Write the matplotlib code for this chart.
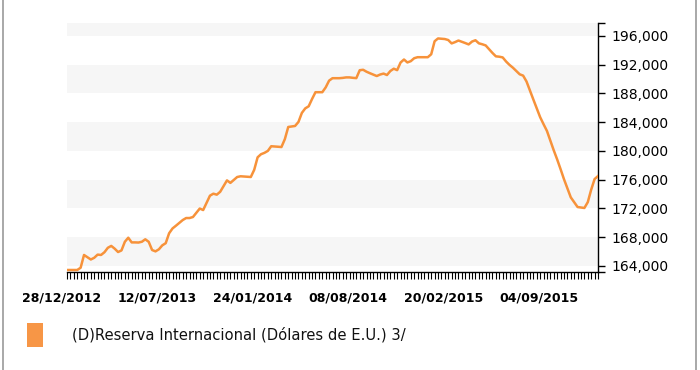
import matplotlib
matplotlib.use("Agg")
import matplotlib.pyplot as plt
import matplotlib.transforms as mtransforms
from matplotlib.patches import Rectangle
from matplotlib.lines import Line2D
from matplotlib.ticker import FuncFormatter
import matplotlib.dates as mdates
import pandas as pd

# weekly values (millions)
reserves = [
    163430, 163430, 163430, 163430, 163740, 165520, 165200, 164890, 165130, 165570,
    165520, 165900, 166520, 166780, 166400, 165930, 166150, 167360, 167920, 167270,
    167270, 167250, 167360, 167700, 167350, 166210, 166020, 166310, 166860, 167160,
    168540, 169210, 169590, 169990, 170380, 170660, 170660, 170800, 171390, 171980,
    171770, 172770, 173770, 174050, 173910, 174310, 175110, 175900, 175550, 175950,
    176370, 176470, 176440, 176400, 176370, 177370, 179110, 179540, 179730, 180000,
    180650, 180620, 180580, 180540, 181640, 183330, 183400, 183470, 184030, 185290,
    185920, 186210, 187230, 188170, 188170, 188170, 188840, 189780, 190120, 190120,
    190120, 190160, 190230, 190230, 190170, 190130, 191230, 191290, 191020, 190810,
    190620, 190420, 190630, 190760, 190560, 191120, 191440, 191240, 192300, 192720,
    192310, 192490, 192900, 193040, 193040, 193040, 193040, 193450, 195260, 195650,
    195610, 195570, 195430, 194960, 195140, 195360, 195190, 195010, 194820, 195220,
    195400, 194970, 194840, 194680, 194150, 193630, 193160, 193110, 193010, 192440,
    191970, 191580, 191120, 190660, 190480, 189660, 188390, 187160, 185930, 184700,
    183720, 182780, 181440, 180080, 178820, 177470, 176070, 174790, 173540, 172870,
    172190, 172130, 172060, 172870, 174610, 176080, 176500,
]
series_label = "(D)Reserva Internacional (Dólares de E.U.) 3/"
start_date = "2012-12-28"
y_ticks = [164000, 168000, 172000, 176000, 180000, 184000, 188000, 192000, 196000]

dates = pd.date_range(start_date, periods=len(reserves), freq="7D")
tick_dates = dates[::28]

orange = "#f7923a"
fig = plt.figure(figsize=(7, 3.7), dpi=100)
ax = fig.add_axes([67 / 700, 1 - 272 / 370, 531 / 700, 249 / 370])

y_min, y_max = 163150, 197800
# alternating light bands
for lo in y_ticks[::2]:
    ax.axhspan(lo, min(lo + 4000, y_max), color="#f6f6f6", lw=0, zorder=0)

ax.plot(dates, reserves, color=orange, lw=1.8, zorder=3)

ax.set_xlim(dates[0], dates[-1])
ax.set_ylim(y_min, y_max)

for side in ["left", "top"]:
    ax.spines[side].set_visible(False)
for side in ["right", "bottom"]:
    ax.spines[side].set_color("black")
    ax.spines[side].set_linewidth(1.0)

ax.yaxis.tick_right()
ax.set_yticks(y_ticks)
ax.set_yticks([y_min, y_max], minor=True)
ax.yaxis.set_major_formatter(FuncFormatter(lambda v, p: f"{v:,.0f}"))
ax.tick_params(axis="y", which="both", direction="out", length=5, width=1,
               labelsize=10, pad=5, colors="black")

ax.set_xticks(tick_dates)
ax.set_xticks(dates, minor=True)
ax.xaxis.set_major_formatter(mdates.DateFormatter("%d/%m/%Y"))
ax.tick_params(axis="x", which="both", direction="out", length=5, width=0.8,
               pad=9, labelsize=9)
offset = mtransforms.ScaledTranslation(-5 / 100, 0, fig.dpi_scale_trans)
for lbl in ax.get_xticklabels():
    lbl.set_fontweight("bold")
    lbl.set_transform(lbl.get_transform() + offset)

# legend
fig.add_artist(Rectangle((27 / 700, 1 - 347 / 370), 16 / 700, 24 / 370,
                         transform=fig.transFigure, color="#f79646", lw=0))
fig.text(72 / 700, 1 - 335 / 370, series_label, fontsize=10.6, va="center",
         color="#111111")

# frame edges of the screenshot
fig.add_artist(Line2D([3 / 700, 3 / 700], [0, 1], color="#9a9a9a", lw=1.2,
                      transform=fig.transFigure))
fig.add_artist(Line2D([696 / 700, 696 / 700], [0, 1], color="#9a9a9a", lw=1.2,
                      transform=fig.transFigure))

fig.savefig("out.png", dpi=100)
